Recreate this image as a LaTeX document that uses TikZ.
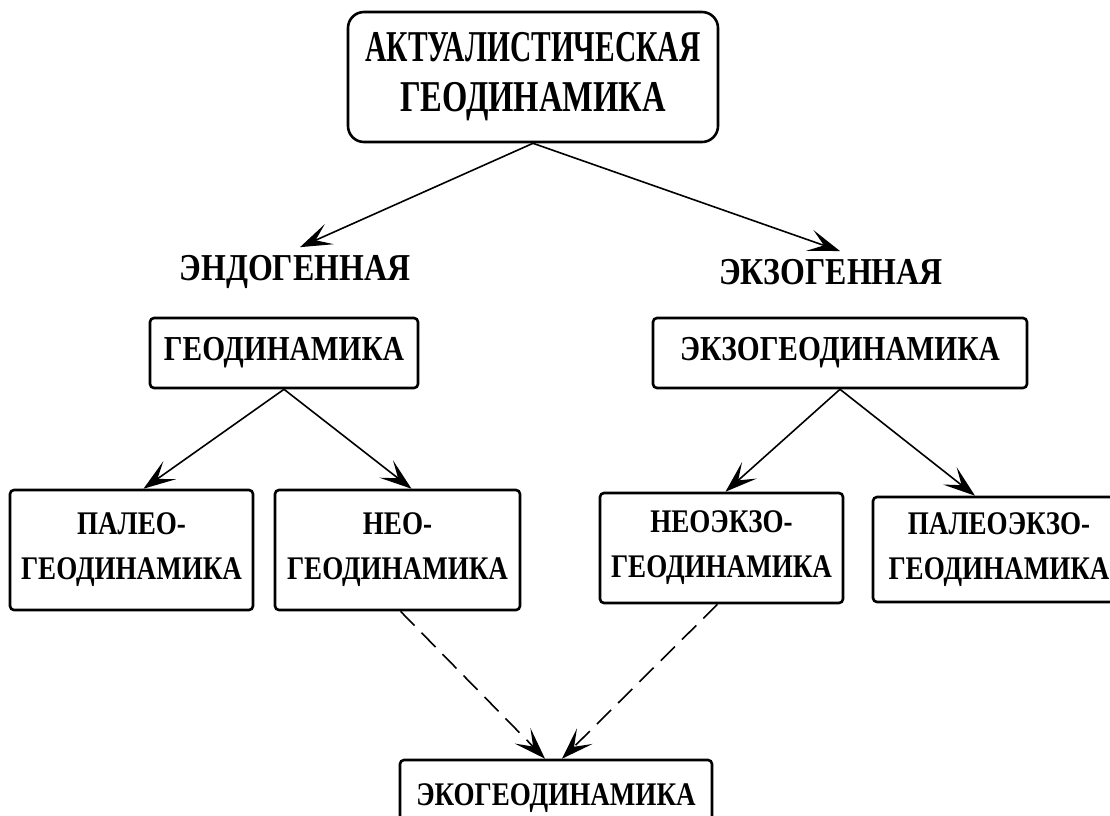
\documentclass[tikz,border=0pt]{standalone}
\usepackage{fontspec}
\setmainfont{Liberation Serif}
\newfontfamily\condAa{Liberation Serif}[FakeStretch=0.67]
\newfontfamily\condAb{Liberation Serif}[FakeStretch=0.74]
\newfontfamily\condB{Liberation Serif}[FakeStretch=0.84]
\newfontfamily\condC{Liberation Serif}[FakeStretch=0.82]
\usetikzlibrary{arrows.meta}
\tikzset{
  box/.style={draw, line width=2.6pt, rounded corners=4pt, inner sep=0pt, align=center},
  topbox/.style={box, rounded corners=16pt},
  lbl/.style={inner sep=8pt, font=\condB\bfseries\fontsize{38}{40}\selectfont},
  conn/.style={line width=1.6pt, -{Stealth[length=32pt,width=22pt,inset=15pt]}},
  dconn/.style={conn, dash pattern=on 20pt off 10pt},
  lvtwo/.style={box, font=\condB\bfseries\fontsize{35}{40}\selectfont},
  lvthree/.style={box, font=\condC\bfseries\fontsize{33}{45}\selectfont},
}
\begin{document}
\begin{tikzpicture}[x=1pt,y=-1pt]
\clip (0,0) rectangle (1110,815);
\fill[white] (0,0) rectangle (1110,815);
\node[topbox, minimum width=370pt, minimum height=130pt,
      font=\bfseries\fontsize{44}{50}\selectfont] (top) at (533,77)
      {{\condAa\bfseries АКТУАЛИСТИЧЕСКАЯ}\\{\condAb\bfseries ГЕОДИНАМИКА}};
\node[lbl] (endo) at (295,272) {ЭНДОГЕННАЯ};
\node[lbl] (exo) at (831,272) {ЭКЗОГЕННАЯ};
\node[lvtwo, minimum width=268pt, minimum height=70pt] (geo) at (284,353) {ГЕОДИНАМИКА};
\node[lvtwo, minimum width=374pt, minimum height=70pt] (exogeo) at (840,353) {ЭКЗОГЕОДИНАМИКА};
\node[lvthree, minimum width=243pt, minimum height=120pt] (paleo) at (131.5,550) {ПАЛЕО-\\ГЕОДИНАМИКА};
\node[lvthree, minimum width=245pt, minimum height=120pt] (neo) at (397.5,550) {НЕО-\\ГЕОДИНАМИКА};
\node[lvthree, minimum width=243pt, minimum height=110pt] (neoexo) at (721.5,548) {НЕОЭКЗО-\\ГЕОДИНАМИКА};
\node[lvthree, minimum width=252pt, minimum height=105pt] (paleoexo) at (999,549.5) {ПАЛЕОЭКЗО-\\ГЕОДИНАМИКА};
\node[lvthree, minimum width=312pt, minimum height=70pt, text depth=0pt] (eco) at (556,795) {ЭКОГЕОДИНАМИКА};
\draw[conn] (top.south) -- ([xshift=5pt]endo.north);
\draw[conn] (top.south) -- ([xshift=9pt]exo.north);
\draw[conn] (geo.south) -- ([xshift=12pt]paleo.north);
\draw[conn] (geo.south) -- ([xshift=14pt]neo.north);
\draw[conn] (exogeo.south) -- ([xshift=4pt]neoexo.north);
\draw[conn] (exogeo.south) -- ([xshift=-24pt]paleoexo.north);
\draw[dconn] ([xshift=3pt]neo.south) -- ([xshift=-11pt]eco.north);
\draw[dconn] ([xshift=-4pt]neoexo.south) -- ([xshift=6pt]eco.north);
\end{tikzpicture}
\end{document}
